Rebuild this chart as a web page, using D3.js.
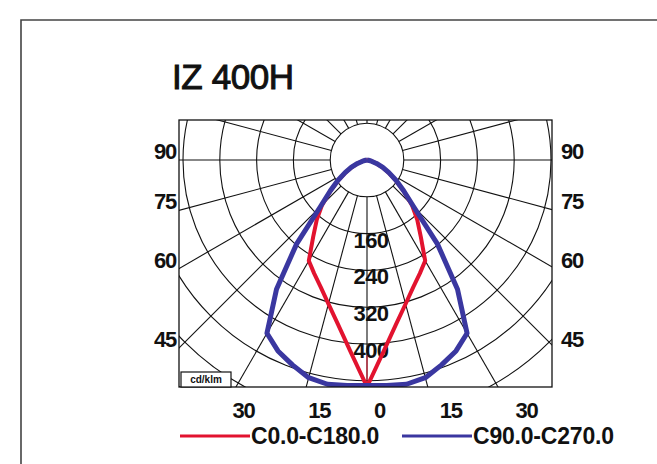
<!DOCTYPE html>
<html>
<head>
<meta charset="utf-8">
<script src="https://cdn.jsdelivr.net/npm/d3@7"></script>
<style>
  body { margin: 0; background: #fff; }
  text { font-family: "Liberation Sans", Arial, sans-serif; fill: #111; }
</style>
</head>
<body>
<div id="chart"></div>
<script>
// photometric data, cd/klm, gamma angle from nadir
var angles   = [0, 5, 10, 15, 20, 25, 30, 35, 40, 45, 50, 55, 60, 65, 70, 75, 80, 85, 90];
var c0c180   = [493, 417, 363, 324, 294, 272, 253, 204, 170, 138, 103, 75, 53, 36, 21, 10, 3, 0, 0];
var c90c270  = [490, 492, 495, 490, 474, 458, 435, 343, 238, 143, 104, 77, 55, 38, 22, 10, 3, 0, 0];

var ringValues  = [80, 160, 240, 320, 400, 480, 560, 640, 720];
var ringLabels  = [160, 240, 320, 400];
var sideTicks   = [90, 75, 60, 45];
var bottomTicks = [30, 15, 0, 15, 30];
var bottomSigns = [-1, -1, 0, 1, 1];
var seriesNames = ["C0.0-C180.0", "C90.0-C270.0"];
var seriesColors = ["#e2132f", "#3a37a0"];

var W = 657, H = 464;
var box = {x0: 179, y0: 120, x1: 552, y1: 387};
var cx = 367, cy = 160;

var r = d3.scaleLinear().domain([0, 400]).range([0, 184]);
var rad = function(deg) { return deg * Math.PI / 180; };

var svg = d3.select("#chart").append("svg")
    .attr("width", W)
    .attr("height", H);

// outer frame
svg.append("path")
    .attr("d", "M21," + (H + 2) + "V20H" + (W + 2))
    .attr("fill", "none")
    .attr("stroke", "#444")
    .attr("stroke-width", 1.6);

// title
svg.append("text")
    .attr("x", 172)
    .attr("y", 89)
    .attr("font-size", 35)
    .attr("letter-spacing", -0.4)
    .attr("stroke", "#111")
    .attr("stroke-width", 1)
    .text("IZ 400H");

svg.append("clipPath").attr("id", "boxclip")
  .append("rect")
    .attr("x", box.x0).attr("y", box.y0)
    .attr("width", box.x1 - box.x0).attr("height", box.y1 - box.y0);

var grid = svg.append("g")
    .attr("clip-path", "url(#boxclip)")
    .attr("fill", "none")
    .attr("stroke", "#111")
    .attr("stroke-width", 1.1);

// rings
grid.selectAll("circle")
    .data(ringValues)
  .enter().append("circle")
    .attr("cx", cx).attr("cy", cy)
    .attr("r", function(d) { return r(d); });

// rays every 15 deg, starting from the first ring
var rayAngles = d3.range(0, 360, 15);
grid.selectAll("line")
    .data(rayAngles)
  .enter().append("line")
    .attr("x1", function(d) { return cx + r(80) * Math.sin(rad(d)); })
    .attr("y1", function(d) { return cy + r(80) * Math.cos(rad(d)); })
    .attr("x2", function(d) { return cx + 600 * Math.sin(rad(d)); })
    .attr("y2", function(d) { return cy + 600 * Math.cos(rad(d)); });

// ring labels along nadir
svg.selectAll(".ringlab")
    .data(ringLabels)
  .enter().append("text")
    .attr("class", "ringlab")
    .attr("x", cx + 4)
    .attr("y", function(d) { return cy + r(d) + 14; })
    .attr("text-anchor", "middle")
    .attr("font-size", 22)
    .attr("font-weight", "bold")
    .attr("letter-spacing", -0.5)
    .text(function(d) { return d; });

// thin red nadir marker
svg.append("line")
    .attr("x1", cx).attr("x2", cx)
    .attr("y1", cy + r(425)).attr("y2", box.y1)
    .attr("stroke", seriesColors[0])
    .attr("stroke-width", 1);

// curves
var line = d3.lineRadial()
    .angle(function(d) { return Math.PI + rad(d[0]); })
    .radius(function(d) { return r(d[1]); });

function fullCurve(vals) {
  var pts = [];
  for (var i = angles.length - 1; i >= 0; i--) pts.push([-angles[i], vals[i]]);
  for (var j = 1; j < angles.length; j++) pts.push([angles[j], vals[j]]);
  return pts;
}

var curves = svg.append("g")
    .attr("clip-path", "url(#boxclip)")
  .append("g")
    .attr("transform", "translate(" + cx + "," + cy + ")");

[c0c180, c90c270].forEach(function(vals, i) {
  curves.append("path")
      .attr("d", line(fullCurve(vals)))
      .attr("fill", "none")
      .attr("stroke", seriesColors[i])
      .attr("stroke-width", i === 0 ? 4 : 5)
      .attr("stroke-linejoin", "round");
});

// plot box
svg.append("rect")
    .attr("x", box.x0).attr("y", box.y0)
    .attr("width", box.x1 - box.x0).attr("height", box.y1 - box.y0)
    .attr("fill", "none")
    .attr("stroke", "#111")
    .attr("stroke-width", 1.3);

// unit box
svg.append("rect")
    .attr("x", box.x0 + 2).attr("y", box.y1 - 15)
    .attr("width", 50).attr("height", 15)
    .attr("fill", "#fff")
    .attr("stroke", "#111")
    .attr("stroke-width", 1.2);
svg.append("text")
    .attr("x", box.x0 + 27).attr("y", box.y1 - 4)
    .attr("text-anchor", "middle")
    .attr("font-size", 10)
    .attr("font-weight", "bold")
    .text("cd/klm");

// side angle labels where the rays meet the box sides
sideTicks.forEach(function(a) {
  var y = cy + (cx - box.x0) * Math.tan(rad(90 - a));
  svg.append("text")
      .attr("x", box.x0 - 3).attr("y", y - 1)
      .attr("text-anchor", "end")
      .attr("font-size", 22).attr("font-weight", "bold")
      .attr("letter-spacing", -1.2)
      .text(a);
  svg.append("text")
      .attr("x", box.x1 + 9).attr("y", y - 1)
      .attr("text-anchor", "start")
      .attr("font-size", 22).attr("font-weight", "bold")
      .attr("letter-spacing", -1.2)
      .text(a);
});

// bottom angle labels
bottomTicks.forEach(function(a, i) {
  var x = cx + 7 + bottomSigns[i] * (box.y1 - cy) * Math.tan(rad(a)) * 1.08;
  svg.append("text")
      .attr("x", x).attr("y", 418)
      .attr("text-anchor", "start")
      .attr("font-size", 22).attr("font-weight", "bold")
      .attr("letter-spacing", -1.2)
      .text(a);
});

// legend
var legendX = [180, 402];
seriesNames.forEach(function(name, i) {
  svg.append("line")
      .attr("x1", legendX[i]).attr("x2", legendX[i] + 70)
      .attr("y1", 436).attr("y2", 436)
      .attr("stroke", seriesColors[i])
      .attr("stroke-width", 3);
  svg.append("text")
      .attr("x", legendX[i] + 71).attr("y", 444)
      .attr("font-size", 23).attr("font-weight", "bold")
      .attr("letter-spacing", -0.2)
      .text(name);
});
</script>
</body>
</html>
